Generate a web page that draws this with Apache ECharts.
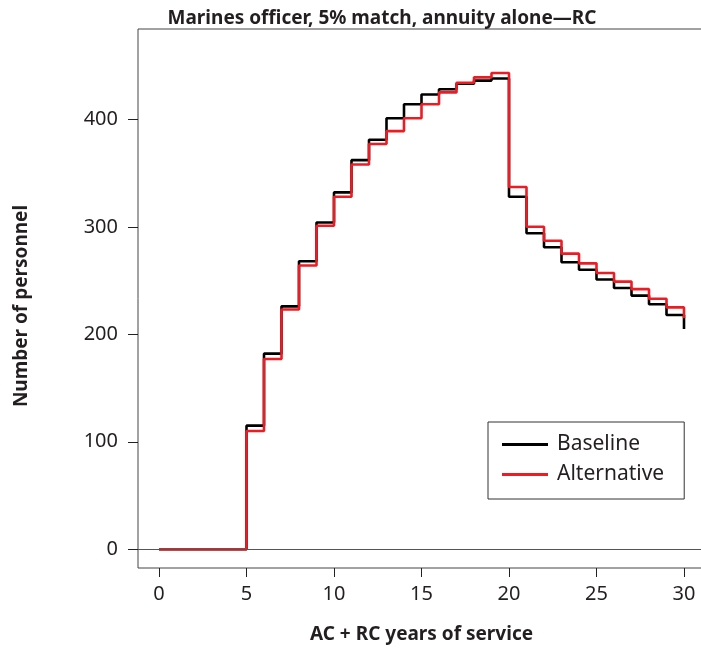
<!DOCTYPE html>
<html>
<head>
<meta charset="utf-8">
<script src="https://cdn.jsdelivr.net/npm/echarts@6/dist/echarts.min.js"></script>
<style>
html,body{margin:0;padding:0;background:#fff;}
#chart{width:701px;height:652px;}
</style>
</head>
<body>
<div id="chart"></div>
<script>
const years = [0,1,2,3,4,5,6,7,8,9,10,11,12,13,14,15,16,17,18,19,20,21,22,23,24,25,26,27,28,29,30];
const baseline = [0,0,0,0,0,115,182,226,268,304,332,362,381,401,414,423,428,433,436,438,328,294,281,267,260,251,243,236,228,218,205];
const alternative = [0,0,0,0,0,110,177,223,264,301,328,358,377,389,401,414,425,434,439,443,337,300,287,275,266,257,249,242,233,225,215];
const xTicks = [0,5,10,15,20,25,30];
const yTicks = [0,100,200,300,400];

const FONT = '"Noto Sans", sans-serif';
const TXT = '#231f20';

const chart = echarts.init(document.getElementById('chart'), null, {renderer:'canvas'});
chart.setOption({
  animation:false,
  backgroundColor:'#fff',
  title:{
    text:'Marines officer, 5% match, annuity alone\u2014RC',
    left:377, top:4, textAlign:'center',
    textStyle:{fontFamily:FONT, fontWeight:'bold', fontSize:19, color:TXT}
  },
  grid:{left:138, top:29, width:567, height:539, outerBoundsMode:'none', containLabel:false,
        show:true, borderColor:'#444', borderWidth:1, backgroundColor:'transparent'},
  legend:{
    left:488, top:422, orient:'vertical',
    padding:[12,20,14,14],
    itemWidth:46, itemHeight:3, itemGap:9,
    icon:'rect',
    borderColor:'#333', borderWidth:1,
    textStyle:{fontFamily:FONT, fontSize:21, color:TXT, padding:[0,0,0,4]},
    data:['Baseline','Alternative']
  },
  graphic:[{
    type:'text', x:22, y:306, rotation:Math.PI/2,
    style:{text:'Number of personnel', fill:TXT, font:'bold 19px "Noto Sans", sans-serif',
           textAlign:'center', textVerticalAlign:'middle'}
  }],
  xAxis:{
    type:'value', min:-1.2, max:31.2,
    name:'AC + RC years of service', nameLocation:'middle', nameGap:57,
    nameTextStyle:{fontFamily:FONT, fontWeight:'bold', fontSize:19, color:TXT},
    axisLine:{show:false, onZero:false},
    axisTick:{show:true, length:9, lineStyle:{color:'#222'}, customValues:xTicks},
    axisLabel:{fontFamily:FONT, fontSize:20, color:TXT, margin:16, customValues:xTicks},
    splitLine:{show:false}
  },
  yAxis:{
    type:'value', min:-17.4, max:484,
    axisLine:{show:false, onZero:false},
    axisTick:{show:true, length:10, lineStyle:{color:'#222'}, customValues:yTicks},
    axisLabel:{fontFamily:FONT, fontSize:20, color:TXT, margin:20, customValues:yTicks},
    splitLine:{show:false}
  },
  series:[
    {
      name:'Baseline', type:'line', step:'end', symbol:'none',
      data:years.map((x,i)=>[x,baseline[i]]),
      itemStyle:{color:'#000'},
      lineStyle:{color:'#000', width:2.6},
      markLine:{
        silent:true, symbol:'none', label:{show:false},
        lineStyle:{color:'#555', width:1.2, type:'solid'},
        data:[{yAxis:0}]
      },
      z:2
    },
    {
      name:'Alternative', type:'line', step:'end', symbol:'none',
      data:years.map((x,i)=>[x,alternative[i]]),
      itemStyle:{color:'#ed1c24'},
      lineStyle:{color:'#ed1c24', width:2.6},
      z:3
    }
  ]
});
</script>
</body>
</html>
